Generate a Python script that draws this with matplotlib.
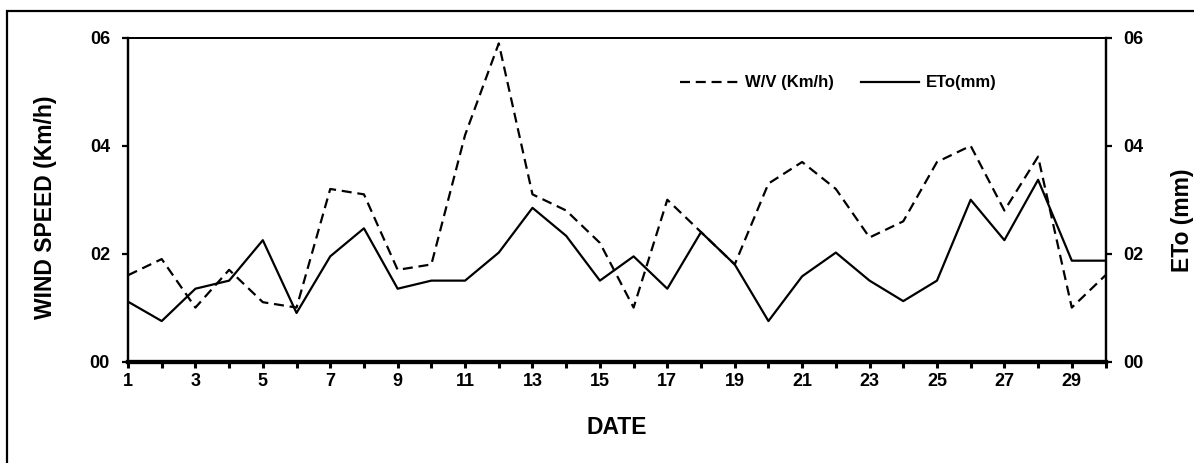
import matplotlib
matplotlib.use("Agg")
import matplotlib.pyplot as plt
from matplotlib.patches import Rectangle
from matplotlib.ticker import FormatStrFormatter, MultipleLocator

plt.rcParams['font.family'] = ['Liberation Sans', 'DejaVu Sans']
plt.rcParams['font.weight'] = 'bold'

dates = list(range(1, 31))
wind_speed = [1.6, 1.9, 1.0, 1.7, 1.1, 1.0, 3.2, 3.1, 1.7, 1.8,
              4.2, 5.9, 3.1, 2.8, 2.2, 1.0, 3.0, 2.4, 1.8, 3.3,
              3.7, 3.2, 2.3, 2.6, 3.7, 4.0, 2.8, 3.8, 1.0, 1.6]
eto = [1.11, 0.75, 1.35, 1.5, 2.25, 0.9, 1.95, 2.47, 1.35, 1.5,
       1.5, 2.02, 2.85, 2.33, 1.5, 1.95, 1.35, 2.4, 1.8, 0.75,
       1.58, 2.02, 1.5, 1.12, 1.5, 3.0, 2.25, 3.37, 1.87, 1.87]
x_tick_labels = [str(d) for d in range(1, 30, 2)]
y_ticks = [0, 2, 4, 6]

W, H = 1194, 463
fig = plt.figure(figsize=(W / 100, H / 100), dpi=100)
fig.patches.append(Rectangle((7 / W, 0 - 0.05), 1.2, 1 - 11 / H + 0.05,
                             transform=fig.transFigure, fill=False,
                             edgecolor='black', linewidth=1.6, zorder=0))

left, right, top, bottom = 128 / W, 1105.5 / W, 1 - 38 / H, 1 - 361.5 / H
ax = fig.add_axes([left, bottom, right - left, top - bottom])
ax2 = ax.twinx()

l1, = ax.plot(dates, wind_speed, color='black', linewidth=1.6,
              linestyle=(0, (4.5, 2.6)), label='W/V (Km/h)')
l2, = ax2.plot(dates, eto, color='black', linewidth=1.6,
               linestyle='-', label='ETo(mm)')

for a in (ax, ax2):
    a.set_xlim(1, 30)
    a.set_ylim(0, 6)
    a.set_yticks(y_ticks)
    a.yaxis.set_major_formatter(FormatStrFormatter('%02d'))
    a.spines['bottom'].set_linewidth(3.0)
    a.spines['left'].set_linewidth(1.6)
    a.spines['right'].set_linewidth(1.6)
    a.spines['top'].set_linewidth(1.4)

ax.set_xticks(range(1, 30, 2))
ax.set_xticklabels(x_tick_labels)
ax.xaxis.set_minor_locator(MultipleLocator(1))
ax.tick_params(axis='x', which='both', direction='out', length=4, width=2.2,
               labelsize=13, pad=4.5)
ax.tick_params(axis='y', direction='out', length=4, width=1.6,
               labelsize=13, pad=9)
ax2.tick_params(axis='y', direction='out', length=4, width=1.6,
                labelsize=13, pad=9)

for lab in ax.get_xticklabels() + ax.get_yticklabels() + ax2.get_yticklabels():
    lab.set_fontweight('bold')

fig.text(617 / W, 1 - 428 / H, 'DATE', ha='center', va='center',
         fontsize=16.5, fontweight='bold')
fig.text(46 / W, 1 - 207 / H, 'WIND SPEED (Km/h)', ha='center', va='center',
         rotation=90, fontsize=16.5, fontweight='bold')
fig.text(1182 / W, 1 - 220 / H, 'ETo (mm)', ha='center', va='center',
         rotation=90, fontsize=16.5, fontweight='bold')

leg = fig.legend([l1, l2], ['W/V (Km/h)', 'ETo(mm)'], ncol=2, frameon=False,
                 loc='center left', bbox_to_anchor=(680 / W, 1 - 83 / H),
                 bbox_transform=fig.transFigure, borderpad=0,
                 borderaxespad=0, handlelength=3.5, handletextpad=0.4,
                 columnspacing=1.6, prop={'size': 12, 'weight': 'bold'})

fig.savefig('out.png', dpi=100)
